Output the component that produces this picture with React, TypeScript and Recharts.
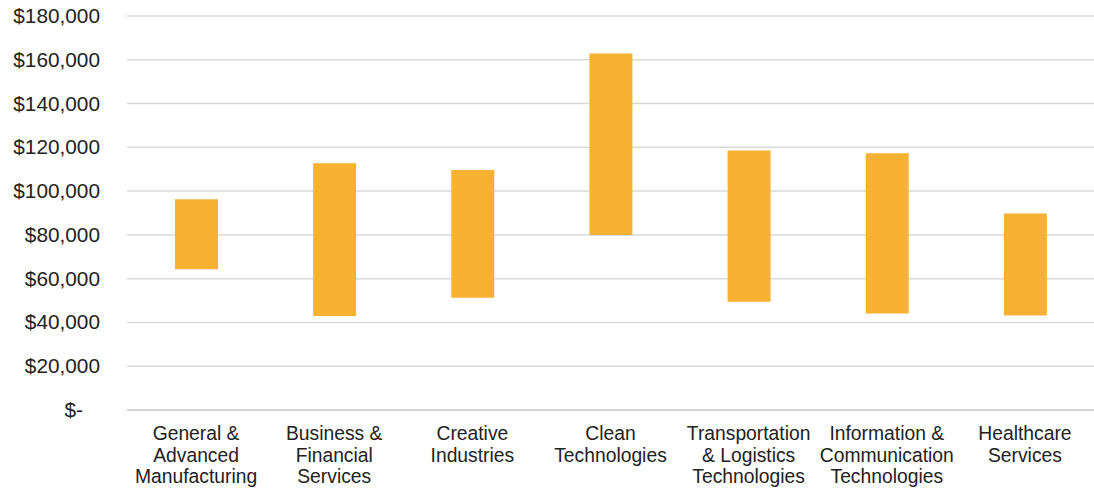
import { BarChart, Bar, XAxis, YAxis, CartesianGrid } from "recharts"

const categories = [
  ["General &", "Advanced", "Manufacturing"],
  ["Business &", "Financial", "Services"],
  ["Creative", "Industries"],
  ["Clean", "Technologies"],
  ["Transportation", "& Logistics", "Technologies"],
  ["Information &", "Communication", "Technologies"],
  ["Healthcare", "Services"],
]
const lowValues = [64300, 42900, 51300, 80000, 49400, 44100, 43200]
const highValues = [96300, 112700, 109700, 162900, 118500, 117300, 89800]
const yTicks = [0, 20000, 40000, 60000, 80000, 100000, 120000, 140000, 160000, 180000]

const data = categories.map((lines, i) => ({
  name: lines.join(" "),
  lines,
  low: lowValues[i],
  high: highValues[i],
}))

const FONT = "'Liberation Sans', Arial, sans-serif"
const TEXT = "#222222"

function CategoryTick({ x, y, payload }: any) {
  const lines: string[] = data[payload.index]?.lines ?? [payload.value]
  return (
    <text x={x} y={y + 22} textAnchor="middle" fill={TEXT} fontSize={19.3} fontFamily={FONT}>
      {lines.map((l, i) => (
        <tspan key={i} x={x} dy={i === 0 ? 0 : 21.5}>
          {l}
        </tspan>
      ))}
    </text>
  )
}

function MoneyTick({ x, y, payload }: any) {
  const v = payload.value as number
  const label = v === 0 ? "$-" : "$" + v.toLocaleString("en-US")
  return (
    <text
      x={v === 0 ? x - 17 : x}
      y={y}
      dy={7}
      textAnchor="end"
      fill={TEXT}
      fontSize={20.8}
      fontFamily={FONT}
    >
      {label}
    </text>
  )
}

export default function App() {
  return (
    <div style={{ position: "absolute", left: 0, top: 0, background: "#fff" }}>
      <BarChart
        width={1094}
        height={488}
        data={data}
        margin={{ top: 16, right: 0, left: 0, bottom: 0 }}
      >
        <CartesianGrid vertical={false} stroke="#d9d9d9" strokeWidth={1.5} />
        <XAxis
          dataKey="name"
          interval={0}
          height={78}
          tickLine={false}
          axisLine={{ stroke: "#d0d0d0", strokeWidth: 1.5 }}
          tick={<CategoryTick />}
        />
        <YAxis
          width={127}
          domain={[0, 180000]}
          ticks={yTicks}
          tickLine={false}
          axisLine={false}
          tickMargin={21}
          tick={<MoneyTick />}
        />
        <Bar
          dataKey={(d: any) => [d.low, d.high]}
          fill="#F8B133"
          barSize={43}
          isAnimationActive={false}
        />
      </BarChart>
    </div>
  )
}
